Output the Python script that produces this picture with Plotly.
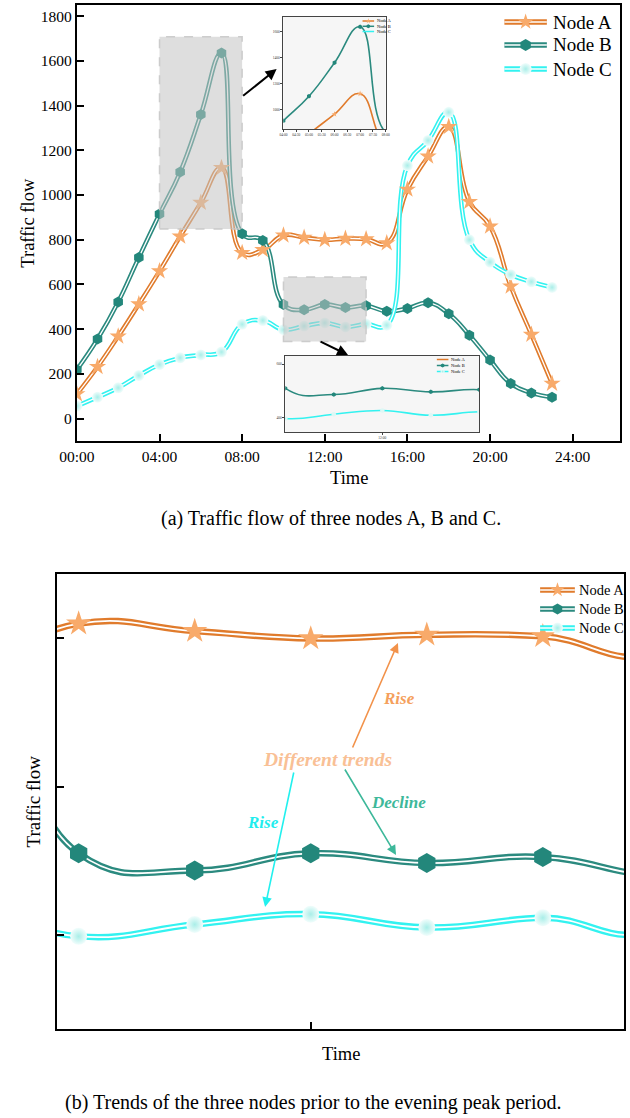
import plotly.graph_objects as go

# ---------------- data ----------------
hours = list(range(24))
node_a = [110, 232, 368, 512, 660, 815, 966, 1122, 742, 755, 820, 810, 800, 805, 803, 785,
          1025, 1173, 1305, 970, 860, 592, 376, 157]
node_b = [219, 356, 522, 721, 915, 1103, 1360, 1635, 827, 797, 510, 487, 510, 497, 505, 480,
          493, 518, 469, 373, 262, 157, 115, 96]
node_c = [56, 96, 138, 193, 242, 272, 285, 298, 422, 439, 398, 414, 428, 410, 423, 418,
          1132, 1244, 1370, 800, 700, 644, 612, 587]
series_names = ["Node A", "Node B", "Node C"]
x_tick_vals = [0, 4, 8, 12, 16, 20, 24]
x_tick_text = ["00:00", "04:00", "08:00", "12:00", "16:00", "20:00", "24:00"]
y_tick_vals = [0, 200, 400, 600, 800, 1000, 1200, 1400, 1600, 1800]
inset1_xvals = [4, 4.5, 5, 5.5, 6, 6.5, 7, 7.5, 8]
inset1_xtext = ["04:00", "04:30", "05:00", "05:30", "06:00", "06:30", "07:00", "07:30", "08:00"]
inset1_yvals = [1000, 1200, 1400, 1600]
inset2_yvals = [400, 600]

W, H = 630, 1118
FONT = "'Liberation Serif', 'Times New Roman', Times, serif"

def px(x):
    return x / W

def py(y):
    return 1 - y / H

LINE_COL = ["#E07B2C", "#2B8A7F", "#33F2F0"]
MARK_COL = ["#F8AA6A", "#23877B", "#D3F7F3"]
MARK_SYM = ["star", "hexagon", "circle"]
data = [node_a, node_b, node_c]

fig = go.Figure()

def add_double(xa, ya, outer, inner, msizes):
    for i in range(3):
        fig.add_trace(go.Scatter(x=hours, y=data[i], mode="lines", xaxis=xa, yaxis=ya,
                                 line=dict(color=LINE_COL[i], width=outer, shape="spline", smoothing=1.3),
                                 showlegend=False, hoverinfo="skip"))
        fig.add_trace(go.Scatter(x=hours, y=data[i], mode="lines", xaxis=xa, yaxis=ya,
                                 line=dict(color="white", width=inner, shape="spline", smoothing=1.3),
                                 showlegend=False, hoverinfo="skip"))
    for i in range(3):
        mk = dict(symbol=MARK_SYM[i], size=msizes[i], color=MARK_COL[i], line=dict(width=0))
        if i == 2:
            mk["gradient"] = dict(type="radial", color="#A9EEE8")
            mk["color"] = "#F2FDFC"
        fig.add_trace(go.Scatter(x=hours, y=data[i], mode="markers", xaxis=xa, yaxis=ya,
                                 marker=mk, showlegend=False, hoverinfo="skip"))

# main (a)
add_double("x", "y", 4.5, 1.3, [13, 11, 11])
# bottom (b)
add_double("x2", "y2", 6.5, 1.8, [19, 20, 17])

# insets
def add_inset(xa, ya):
    for i in range(3):
        fig.add_trace(go.Scatter(x=hours, y=data[i], mode="lines+markers", xaxis=xa, yaxis=ya,
                                 line=dict(color=LINE_COL[i], width=1.6, shape="spline", smoothing=1.3),
                                 marker=dict(symbol=MARK_SYM[i], size=4.5, color=MARK_COL[i] if i != 2 else "#DDF8F5"),
                                 showlegend=False, hoverinfo="skip"))

add_inset("x3", "y3")
add_inset("x4", "y4")

# legends drawn in a pixel overlay axis
def legend_entry(x0, x1, y, i, outer, inner, msize, text, fsize, tx):
    fig.add_trace(go.Scatter(x=[x0, x1], y=[y, y], mode="lines", xaxis="x5", yaxis="y5",
                             line=dict(color=LINE_COL[i], width=outer), showlegend=False, hoverinfo="skip"))
    if inner > 0:
        fig.add_trace(go.Scatter(x=[x0, x1], y=[y, y], mode="lines", xaxis="x5", yaxis="y5",
                                 line=dict(color="white", width=inner), showlegend=False, hoverinfo="skip"))
    if msize > 0:
        mk = dict(symbol=MARK_SYM[i], size=msize, color=MARK_COL[i])
        if i == 2:
            mk["gradient"] = dict(type="radial", color="#A9EEE8")
            mk["color"] = "#F2FDFC"
        fig.add_trace(go.Scatter(x=[(x0 + x1) / 2], y=[y], mode="markers", xaxis="x5", yaxis="y5",
                                 marker=mk, showlegend=False, hoverinfo="skip"))
    fig.add_annotation(x=px(tx), y=py(y), xref="paper", yref="paper", text=text, showarrow=False,
                       xanchor="left", yanchor="middle", font=dict(family=FONT, size=fsize, color="black"))

top_leg_y = [22, 45, 69]
bot_leg_y = [590, 609, 628]
for i in range(3):
    legend_entry(504, 548, top_leg_y[i], i, 5.5, 1.4, 12, series_names[i], 19, 552)
    legend_entry(541, 577, bot_leg_y[i], i, 5.5, 1.4, 11, series_names[i], 14.5, 579)
# inset legends
in1_y = [21, 26.3, 31.5]
in2_y = [359.5, 365.5, 371.5]
for i in range(3):
    legend_entry(357, 369, in1_y[i], i, 1.5, 0, 4 if i < 2 else 0, series_names[i], 4.5, 370)
    legend_entry(434, 446, in2_y[i], i, 1.5, 0, 4 if i > 0 else 0, series_names[i], 4.5, 447)

main_axis = dict(showline=True, mirror=True, linecolor="black", linewidth=2, ticks="inside",
                 ticklen=7, tickwidth=2, tickcolor="black", showgrid=False, zeroline=False,
                 tickfont=dict(family=FONT, size=15.5, color="black"))
inset_axis = dict(showline=True, mirror=True, linecolor="#444", linewidth=1, ticks="outside",
                  ticklen=2, tickwidth=0.6, tickcolor="#444", showgrid=False, zeroline=False,
                  tickfont=dict(family=FONT, size=3.5, color="#333"))

fig.update_layout(
    width=W, height=H, margin=dict(l=0, r=0, t=0, b=0),
    paper_bgcolor="white", plot_bgcolor="rgba(0,0,0,0)",
    showlegend=False,
    font=dict(family=FONT),
    xaxis=dict(main_axis, domain=[px(61), px(624)], range=[0, 26.3], anchor="y",
               tickvals=x_tick_vals, ticktext=x_tick_text),
    yaxis=dict(main_axis, domain=[py(441), py(5)], range=[-100, 1850], anchor="x",
               tickvals=y_tick_vals),
    xaxis2=dict(main_axis, domain=[px(40), px(628)], range=[9.81, 14.70], anchor="y2",
                tickvals=[12], showticklabels=False),
    yaxis2=dict(main_axis, domain=[py(1029), py(574)], range=[273, 887], anchor="x2",
                tickvals=[400, 600, 800], showticklabels=False),
    xaxis3=dict(inset_axis, domain=[px(275), px(381)], range=[4, 8], anchor="y3",
                tickvals=inset1_xvals, ticktext=inset1_xtext),
    yaxis3=dict(inset_axis, domain=[py(129), py(17)], range=[852, 1710], anchor="x3",
                tickvals=inset1_yvals),
    xaxis4=dict(inset_axis, domain=[px(277), px(478)], range=[10, 14], anchor="y4",
                tickvals=[12], ticktext=["12:00"]),
    yaxis4=dict(inset_axis, domain=[py(432), py(356)], range=[348, 630], anchor="x4",
                tickvals=inset2_yvals),
    xaxis5=dict(domain=[0, 1], range=[0, W], visible=False, anchor="y5", fixedrange=True),
    yaxis5=dict(domain=[0, 1], range=[H, 0], visible=False, anchor="x5", fixedrange=True),
)

# inset backgrounds
for (x0, x1, y0, y1) in [(275, 381, 17, 129), (277, 478, 356, 432)]:
    fig.add_shape(type="rect", xref="paper", yref="paper", x0=px(x0), x1=px(x1), y0=py(y1), y1=py(y0),
                  fillcolor="#F6F6F6", line=dict(width=0), layer="below")

# shaded zoom regions in main chart (data coords)
for (x0, x1, y0, y1) in [(4, 8, 848, 1708), (10, 14, 345, 633)]:
    fig.add_shape(type="rect", xref="x", yref="y", x0=x0, x1=x1, y0=y0, y1=y1,
                  fillcolor="rgba(195,195,195,0.55)", line=dict(color="rgba(200,200,200,0.9)", width=1.5, dash="dash"),
                  layer="above")

# black arrows to insets
for (hx, hy, ax, ay) in [(268, 69, -35, 28), (342, 355, -29, -14)]:
    fig.add_annotation(x=px(hx), y=py(hy), xref="paper", yref="paper", text="", showarrow=True,
                       ax=ax, ay=ay, arrowhead=2, arrowsize=1.1, arrowwidth=2, arrowcolor="black")

# titles and captions
def text(x, y, s, size, angle=0, color="black", bold=False, italic=False):
    if bold:
        s = "<b>" + s + "</b>"
    if italic:
        s = "<i>" + s + "</i>"
    fig.add_annotation(x=px(x), y=py(y), xref="paper", yref="paper", text=s, showarrow=False,
                       textangle=angle, xanchor="center", yanchor="middle",
                       font=dict(family=FONT, size=size, color=color))

text(10, 223, "Traffic flow", 18.5, angle=-90)
text(343, 478, "Time", 18.5)
text(324, 518, "(a) Traffic flow of three nodes A, B and C.", 20)
text(16, 801, "Traffic flow", 19, angle=-90)
text(335, 1054, "Time", 18.5)
text(306, 1102, "(b) Trends of the three nodes prior to the evening peak period.", 20)

# trend annotations in (b)
arrows_b = [(393.7, 643, -46, 106, "#F2924A"), (391.7, 855, -52, -87, "#3DB89A"), (256, 907, 29, -136, "#22F0EE")]
for (hx, hy, ax, ay, col) in arrows_b:
    fig.add_annotation(x=px(hx), y=py(hy), xref="paper", yref="paper", text="", showarrow=True,
                       ax=ax, ay=ay, arrowhead=2, arrowsize=1.2, arrowwidth=1.6, arrowcolor=col)
text(321, 759, "Different trends", 19.5, color="#F9C095", bold=True, italic=True)
text(395, 698, "Rise", 17, color="#F5A05C", bold=True, italic=True)
text(394, 802, "Decline", 17, color="#3DB89A", bold=True, italic=True)
text(254, 822, "Rise", 17, color="#1FEDEE", bold=True, italic=True)

fig.write_html("out.html")
